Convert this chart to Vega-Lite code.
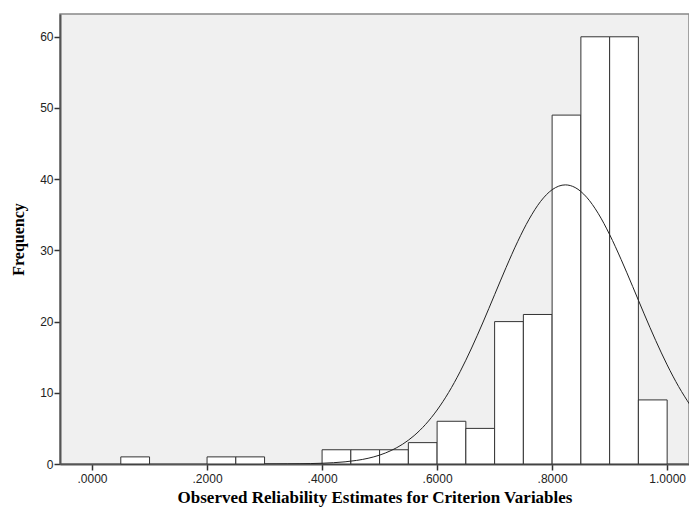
{
  "$schema": "https://vega.github.io/schema/vega-lite/v6.json",
  "width": 629,
  "height": 450,
  "autosize": "none",
  "padding": {"left": 60, "top": 14, "right": 0, "bottom": 44},
  "background": "white",
  "config": {
    "view": {"fill": "#f0f0f0", "stroke": "#888888", "strokeWidth": 1.5},
    "axis": {
      "grid": false,
      "domainColor": "#555555",
      "domainWidth": 2,
      "tickColor": "#333333",
      "tickWidth": 1.5,
      "tickSize": 6,
      "labelFont": "Liberation Sans",
      "labelFontSize": 12,
      "labelColor": "#222222",
      "titleFont": "Liberation Serif",
      "titleFontWeight": "bold",
      "titleColor": "#000000"
    }
  },
  "layer": [
    {
      "data": {
        "values": [
          {"start": 0.05, "end": 0.10, "count": 1},
          {"start": 0.20, "end": 0.25, "count": 1},
          {"start": 0.25, "end": 0.30, "count": 1},
          {"start": 0.40, "end": 0.45, "count": 2},
          {"start": 0.45, "end": 0.50, "count": 2},
          {"start": 0.50, "end": 0.55, "count": 2},
          {"start": 0.55, "end": 0.60, "count": 3},
          {"start": 0.60, "end": 0.65, "count": 6},
          {"start": 0.65, "end": 0.70, "count": 5},
          {"start": 0.70, "end": 0.75, "count": 20},
          {"start": 0.75, "end": 0.80, "count": 21},
          {"start": 0.80, "end": 0.85, "count": 49},
          {"start": 0.85, "end": 0.90, "count": 60},
          {"start": 0.90, "end": 0.95, "count": 60},
          {"start": 0.95, "end": 1.00, "count": 9}
        ]
      },
      "mark": {"type": "bar", "fill": "white", "stroke": "#333333", "strokeWidth": 1},
      "encoding": {
        "x": {
          "field": "start", "type": "quantitative",
          "scale": {"domain": [-0.0557, 1.038], "nice": false, "zero": false},
          "axis": {
            "values": [0, 0.2, 0.4, 0.6, 0.8, 1.0],
            "labelExpr": "datum.value < 1 ? slice(format(datum.value, '.4f'), 1) : format(datum.value, '.4f')",
            "labelPadding": 3,
            "title": "Observed Reliability Estimates for Criterion Variables",
            "titleFontSize": 17,
            "titlePadding": 5
          }
        },
        "x2": {"field": "end"},
        "y": {
          "field": "count", "type": "quantitative",
          "scale": {"domain": [0, 63.2], "nice": false},
          "axis": {
            "values": [0, 10, 20, 30, 40, 50, 60],
            "labelPadding": 1,
            "title": "Frequency",
            "titleFontSize": 16,
            "titlePadding": 13
          }
        },
        "y2": {"datum": 0}
      }
    },
    {
      "data": {
        "values": [
          {"x": 0.30, "y": 0.005},
          {"x": 0.32, "y": 0.009},
          {"x": 0.34, "y": 0.018},
          {"x": 0.36, "y": 0.033},
          {"x": 0.38, "y": 0.060},
          {"x": 0.40, "y": 0.106},
          {"x": 0.42, "y": 0.183},
          {"x": 0.44, "y": 0.307},
          {"x": 0.46, "y": 0.503},
          {"x": 0.48, "y": 0.803},
          {"x": 0.50, "y": 1.247},
          {"x": 0.52, "y": 1.89},
          {"x": 0.54, "y": 2.778},
          {"x": 0.56, "y": 3.985},
          {"x": 0.58, "y": 5.569},
          {"x": 0.60, "y": 7.578},
          {"x": 0.62, "y": 10.04},
          {"x": 0.64, "y": 12.96},
          {"x": 0.66, "y": 16.29},
          {"x": 0.68, "y": 19.94},
          {"x": 0.70, "y": 23.78},
          {"x": 0.72, "y": 27.61},
          {"x": 0.74, "y": 31.22},
          {"x": 0.76, "y": 34.38},
          {"x": 0.78, "y": 36.88},
          {"x": 0.80, "y": 38.52},
          {"x": 0.823, "y": 39.2},
          {"x": 0.84, "y": 38.83},
          {"x": 0.86, "y": 37.47},
          {"x": 0.88, "y": 35.21},
          {"x": 0.90, "y": 32.22},
          {"x": 0.92, "y": 28.72},
          {"x": 0.94, "y": 24.94},
          {"x": 0.96, "y": 21.08},
          {"x": 0.98, "y": 17.36},
          {"x": 1.00, "y": 13.92},
          {"x": 1.02, "y": 10.87},
          {"x": 1.04, "y": 8.27}
        ]
      },
      "mark": {"type": "line", "color": "#222222", "strokeWidth": 1, "interpolate": "monotone", "clip": true},
      "encoding": {
        "x": {"field": "x", "type": "quantitative"},
        "y": {"field": "y", "type": "quantitative"}
      }
    }
  ]
}
